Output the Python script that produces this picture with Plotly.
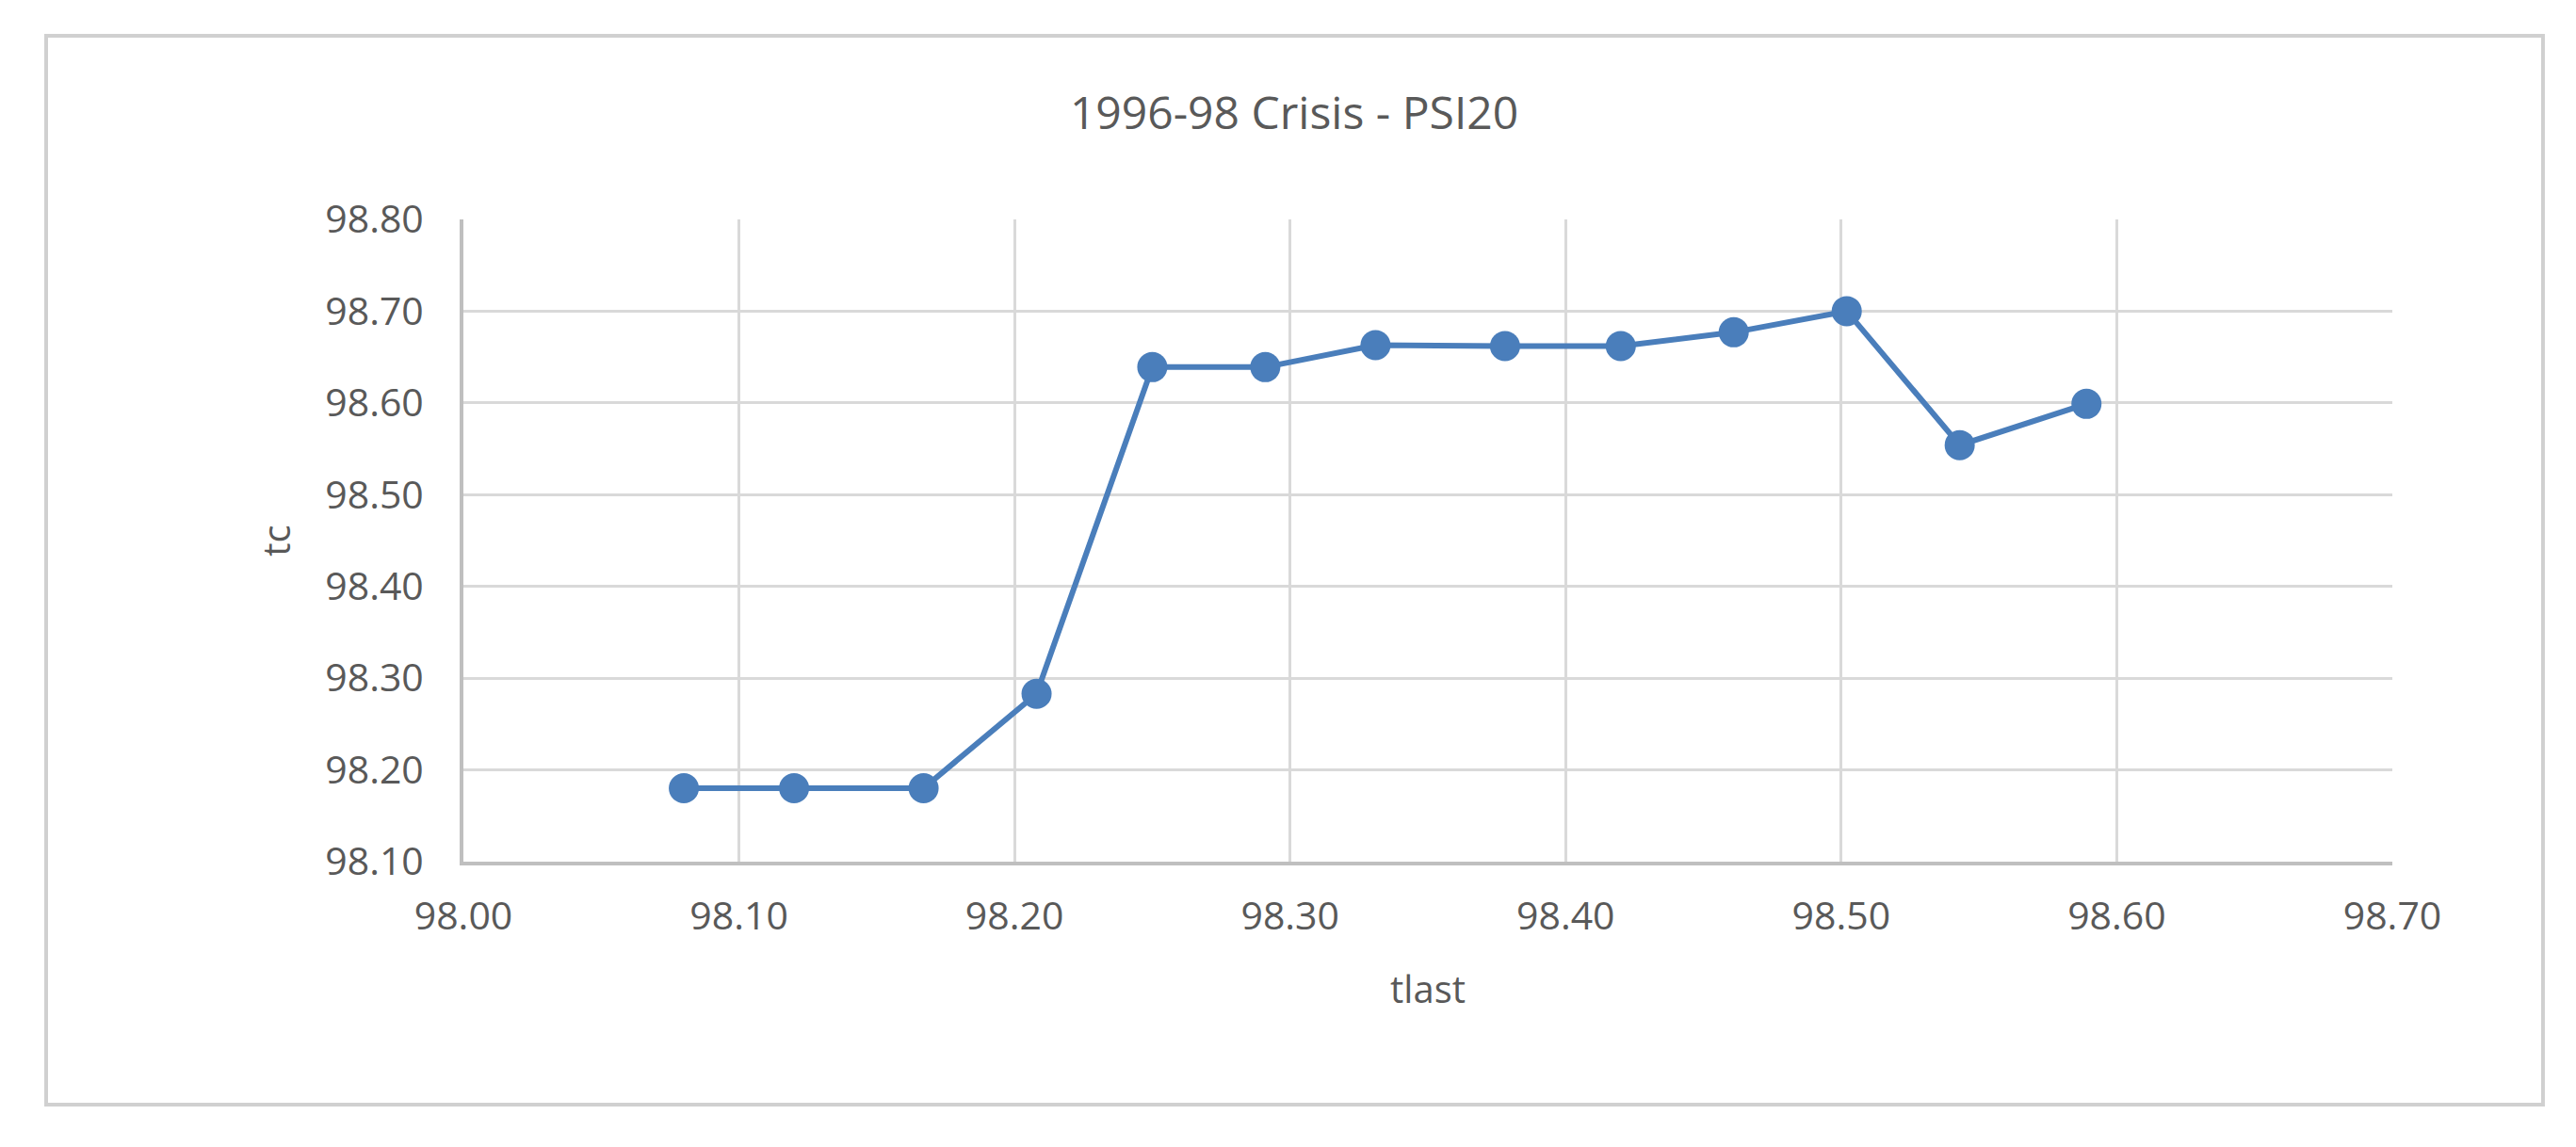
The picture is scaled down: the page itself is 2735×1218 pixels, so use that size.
import plotly.graph_objects as go

# values
tlast = [98.080, 98.120, 98.167, 98.208, 98.250, 98.291, 98.331,
         98.378, 98.420, 98.461, 98.502, 98.543, 98.589]
tc = [98.180, 98.180, 98.180, 98.283, 98.639, 98.639, 98.663,
      98.662, 98.662, 98.677, 98.700, 98.554, 98.599]

chart_title = "1996-98 Crisis - PSI20"
x_title = "tlast"
y_title = "tc"

font_color = "#595959"
grid_color = "#d9d9d9"
line_color = "#4a7ebb"

fig = go.Figure()
fig.add_trace(go.Scatter(
    x=tlast, y=tc, mode="lines+markers",
    line=dict(color=line_color, width=6),
    marker=dict(color=line_color, size=32),
    showlegend=False,
))

# page body has an 8px margin, so the figure is a bit smaller than the window
fig.update_layout(
    width=2719, height=1202,
    margin=dict(l=484, r=187, t=225, b=295),
    paper_bgcolor="white", plot_bgcolor="white",
    font=dict(family="Open Sans", color=font_color, size=41),
    title=dict(text=chart_title, x=0.5024, xanchor="center", y=0.9068, yanchor="middle",
               font=dict(size=48, color=font_color)),
)

fig.update_xaxes(
    range=[98.0, 98.7], dtick=0.1, tick0=98.0, tickformat=".2f",
    showgrid=True, gridcolor=grid_color, gridwidth=3,
    showline=True, linecolor="#bfbfbf", linewidth=4,
    zeroline=False, ticks="", ticklabelstandoff=19,
    title=dict(text=x_title, standoff=40, font=dict(size=40)),
)
fig.update_yaxes(
    range=[98.1, 98.8], dtick=0.1, tick0=98.1, tickformat=".2f",
    showgrid=True, gridcolor=grid_color, gridwidth=3,
    showline=True, linecolor="#bfbfbf", linewidth=4,
    zeroline=False, ticks="", ticklabelstandoff=30,
    title=dict(text=y_title, standoff=25, font=dict(size=40)),
)

# outer chart border
fig.add_shape(type="rect", xref="paper", yref="paper",
              x0=-0.2163, x1=1.0781, y0=-0.3783, y1=1.2859,
              line=dict(color="#d0d0d0", width=4), layer="below")

fig.write_html("out.html")
